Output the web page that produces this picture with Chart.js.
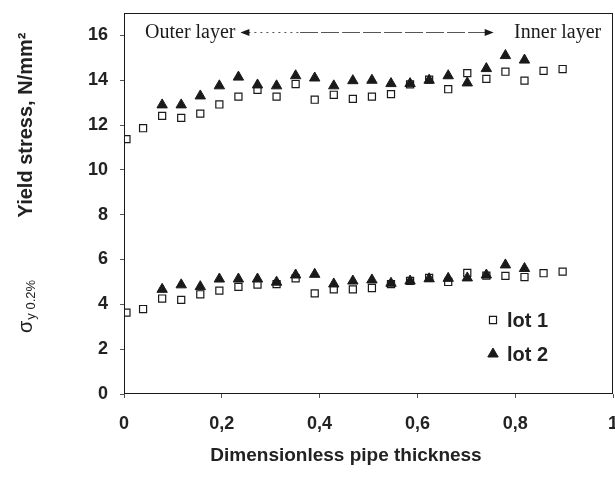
<!DOCTYPE html>
<html>
<head>
<meta charset="utf-8">
<script src="https://cdn.jsdelivr.net/npm/chart.js@4.4.1/dist/chart.umd.min.js"></script>
<style>
  html, body { margin: 0; padding: 0; background: #fff; overflow: hidden; }
  body { width: 615px; height: 489px; }
  #wrap { width: 620px; height: 489px; }
</style>
</head>
<body>
<div id="wrap"><canvas id="yieldChart"></canvas></div>
<script>
// dimensionless position through the pipe wall (outer -> inner)
const thickness = [0.005, 0.039, 0.078, 0.117, 0.156, 0.195, 0.234, 0.273, 0.312, 0.351, 0.390, 0.429,
                   0.468, 0.507, 0.546, 0.585, 0.624, 0.663, 0.702, 0.741, 0.780, 0.819, 0.858, 0.897];
// lot 2 was only measured from 0.078 to 0.819
const thicknessLot2 = thickness.slice(2, 22);

const lot1Upper = [11.37, 11.86, 12.41, 12.32, 12.51, 12.92, 13.27, 13.57, 13.27, 13.83, 13.13, 13.35,
                   13.17, 13.27, 13.38, 13.82, 14.03, 13.6, 14.32, 14.06, 14.38, 13.98, 14.42, 14.5];
const lot1Lower = [3.63, 3.79, 4.26, 4.2, 4.45, 4.61, 4.78, 4.88, 4.9, 5.16, 4.49, 4.67,
                   4.67, 4.73, 4.9, 5.05, 5.18, 5.0, 5.4, 5.28, 5.27, 5.22, 5.39, 5.46];
const lot2Upper = [12.9, 12.9, 13.3, 13.75, 14.14, 13.79, 13.75, 14.2, 14.1, 13.75, 13.98, 14.0,
                   13.85, 13.85, 14.0, 14.2, 13.88, 14.52, 15.1, 14.9];
const lot2Lower = [4.67, 4.87, 4.79, 5.13, 5.13, 5.13, 4.99, 5.31, 5.34, 4.91, 5.04, 5.09,
                   4.94, 5.04, 5.14, 5.16, 5.18, 5.31, 5.76, 5.6];

const xTicks = [0, 0.2, 0.4, 0.6, 0.8, 1];
const yTicks = [0, 2, 4, 6, 8, 10, 12, 14, 16];
const legendLabels = ['lot 1', 'lot 2'];

const ink = '#1a1a1a';
const toPoints = (xs, ys) => ys.map((y, i) => ({ x: xs[i], y: y }));

const squareStyle = {
  pointStyle: 'rect', pointRadius: 5, pointBackgroundColor: '#fff',
  pointBorderColor: ink, pointBorderWidth: 1.2, showLine: false, order: 1
};
const triangleStyle = {
  pointStyle: 'triangle', pointRadius: 6, pointBackgroundColor: ink,
  pointBorderColor: ink, pointBorderWidth: 1, showLine: false, order: 0
};

// frame, annotations, axis titles and legend drawn on top of the chart
const extras = {
  id: 'extras',
  afterDraw(chart) {
    const { ctx, chartArea: a, scales: { x, y } } = chart;
    ctx.save();

    ctx.strokeStyle = ink;
    ctx.lineWidth = 1;
    ctx.strokeRect(a.left + 0.5, a.top + 0.5, a.right - a.left - 1, a.bottom - a.top - 1);

    // outer / inner layer arrow
    const ay = a.top + 19;
    ctx.fillStyle = ink;
    ctx.font = '20px "Liberation Serif", serif';
    ctx.textBaseline = 'alphabetic';
    ctx.textAlign = 'left';
    ctx.fillText('Outer layer', x.getPixelForValue(0.043), ay + 6);
    ctx.textAlign = 'right';
    ctx.fillText('Inner layer', x.getPixelForValue(0.976), ay + 6);

    const x0 = x.getPixelForValue(0.238), x1 = x.getPixelForValue(0.36), x2 = x.getPixelForValue(0.756);
    ctx.strokeStyle = '#555';
    ctx.lineWidth = 1;
    ctx.setLineDash([2, 4]);
    ctx.beginPath(); ctx.moveTo(x0 + 8, ay + 0.5); ctx.lineTo(x1, ay + 0.5); ctx.stroke();
    ctx.setLineDash([18, 3]);
    ctx.beginPath(); ctx.moveTo(x1, ay + 0.5); ctx.lineTo(x2 - 8, ay + 0.5); ctx.stroke();
    ctx.setLineDash([]);
    ctx.beginPath();
    ctx.moveTo(x0, ay + 0.5); ctx.lineTo(x0 + 9, ay - 3); ctx.lineTo(x0 + 9, ay + 4); ctx.closePath();
    ctx.moveTo(x2, ay + 0.5); ctx.lineTo(x2 - 9, ay - 3); ctx.lineTo(x2 - 9, ay + 4); ctx.closePath();
    ctx.fill();

    // x title
    ctx.fillStyle = '#222';
    ctx.textAlign = 'center';
    ctx.textBaseline = 'middle';
    ctx.font = 'bold 19px "Liberation Sans", Arial, sans-serif';
    ctx.fillText('Dimensionless pipe thickness', 346, 456);

    // y title, two separate pieces
    ctx.save();
    ctx.translate(26, 125);
    ctx.rotate(-Math.PI / 2);
    ctx.font = 'bold 20px "Liberation Sans", Arial, sans-serif';
    ctx.fillText('Yield stress, N/mm²', 0, 0);
    ctx.restore();

    ctx.save();
    ctx.translate(32, 333);
    ctx.rotate(-Math.PI / 2);
    ctx.textAlign = 'left';
    ctx.textBaseline = 'alphabetic';
    ctx.font = '20px "Liberation Sans", Arial, sans-serif';
    ctx.fillText('σ', 0, 0);
    const sw = ctx.measureText('σ').width;
    ctx.font = '13px "Liberation Sans", Arial, sans-serif';
    ctx.fillText('y 0.2%', sw + 1, 3);
    ctx.restore();

    // legend
    const lx = 493, rows = [320, 354];
    ctx.font = 'bold 20px "Liberation Sans", Arial, sans-serif';
    ctx.textAlign = 'left';
    ctx.textBaseline = 'middle';
    legendLabels.forEach((label, i) => {
      const ds = chart.data.datasets[i * 2];
      ctx.fillStyle = ds.pointBackgroundColor;
      ctx.strokeStyle = ds.pointBorderColor;
      ctx.lineWidth = ds.pointBorderWidth;
      Chart.helpers.drawPoint(ctx, {
        pointStyle: ds.pointStyle, radius: ds.pointRadius, borderWidth: ds.pointBorderWidth
      }, lx, rows[i]);
      ctx.fillStyle = '#222';
      ctx.fillText(label, lx + 14, rows[i] + 1);
    });

    ctx.restore();
  }
};

new Chart(document.getElementById('yieldChart'), {
  type: 'scatter',
  data: {
    datasets: [
      { label: 'lot 1', data: toPoints(thickness, lot1Upper), ...squareStyle },
      { label: 'lot 1 (0.2%)', data: toPoints(thickness, lot1Lower), ...squareStyle },
      { label: 'lot 2', data: toPoints(thicknessLot2, lot2Upper), ...triangleStyle },
      { label: 'lot 2 (0.2%)', data: toPoints(thicknessLot2, lot2Lower), ...triangleStyle }
    ]
  },
  options: {
    responsive: true,
    maintainAspectRatio: false,
    animation: false,
    layout: { padding: { top: 13, right: 0, left: 0, bottom: 0 } },
    plugins: { legend: { display: false }, tooltip: { enabled: false } },
    scales: {
      x: {
        type: 'linear', min: 0, max: 1,
        afterBuildTicks: s => { s.ticks = xTicks.map(v => ({ value: v })); },
        afterFit: s => { s.height = 95; s.paddingLeft = 0; s.paddingRight = 0; },
        border: { display: false },
        grid: { display: true, drawOnChartArea: false, tickLength: 4, color: '#555' },
        ticks: {
          color: '#222', padding: 15,
          font: { family: '"Liberation Sans", Arial, sans-serif', size: 18, weight: 'bold' },
          callback: v => String(v).replace('.', ',')
        }
      },
      y: {
        type: 'linear', min: 0, max: 17,
        afterBuildTicks: s => { s.ticks = yTicks.map(v => ({ value: v })); },
        afterFit: s => { s.width = 124; s.paddingTop = 0; s.paddingBottom = 0; },
        border: { display: false },
        grid: { display: true, drawOnChartArea: false, tickLength: 4, color: '#555' },
        ticks: {
          color: '#222', padding: 12,
          font: { family: '"Liberation Sans", Arial, sans-serif', size: 18, weight: 'bold' }
        }
      }
    }
  },
  plugins: [extras]
});
</script>
</body>
</html>
